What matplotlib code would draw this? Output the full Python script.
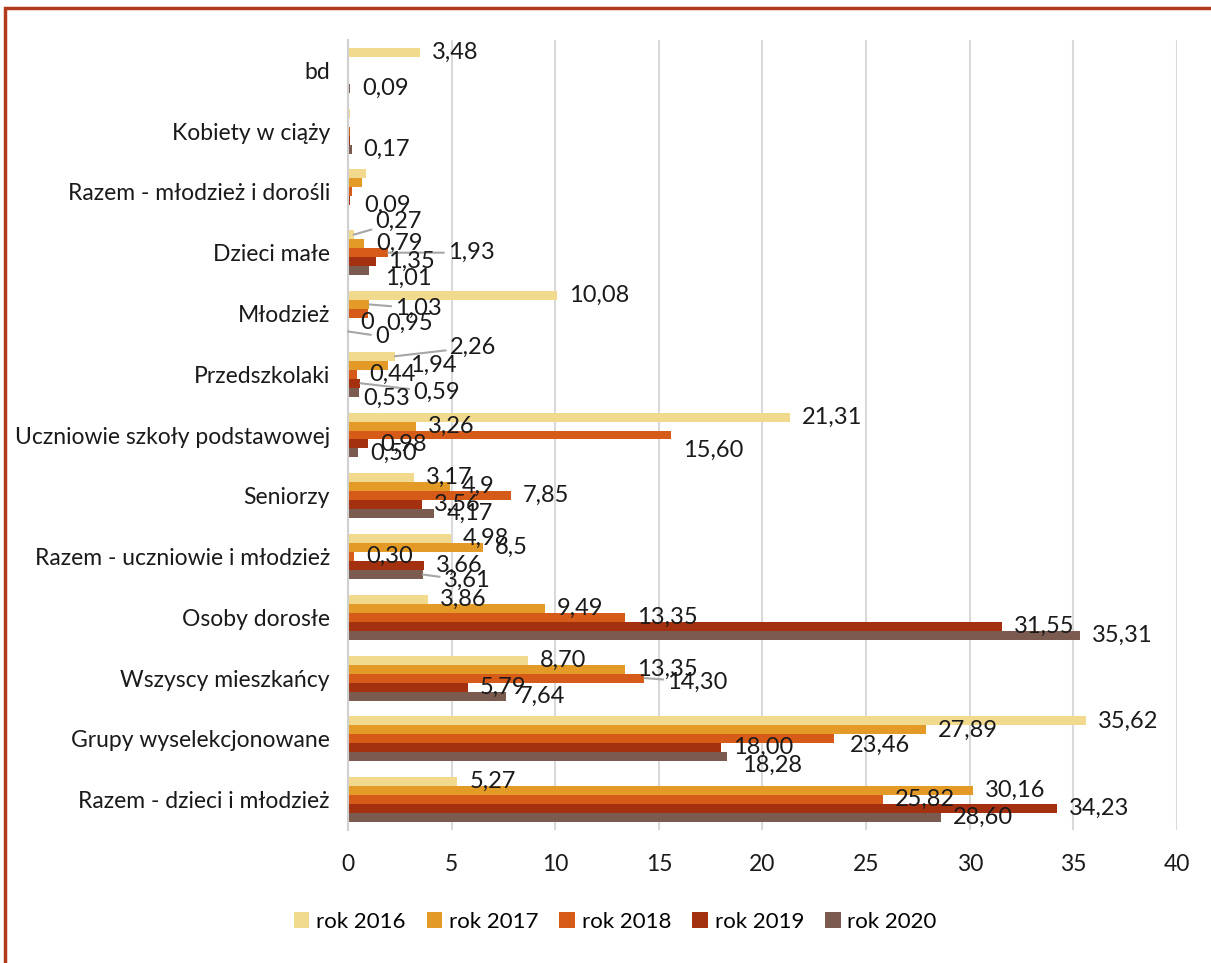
import matplotlib
matplotlib.use("Agg")
import matplotlib.pyplot as plt
from matplotlib.patches import Rectangle, Patch
import numpy as np

plt.rcParams["font.family"] = ["Lato", "DejaVu Sans"]

# categories from top to bottom
categories = [
	"bd",
	"Kobiety w ciąży",
	"Razem - młodzież i dorośli",
	"Dzieci małe",
	"Młodzież",
	"Przedszkolaki",
	"Uczniowie szkoły podstawowej",
	"Seniorzy",
	"Razem - uczniowie i młodzież",
	"Osoby dorosłe",
	"Wszyscy mieszkańcy",
	"Grupy wyselekcjonowane",
	"Razem - dzieci i młodzież",
]

# values as shown in the data labels (None = no bar)
rok_2016 = ["3,48", "0,09", "0,87", "0,27", "10,08", "2,26", "21,31", "3,17", "4,98", "3,86", "8,70", "35,62", "5,27"]
rok_2017 = [None, None, "0,68", "0,79", "1,03", "1,94", "3,26", "4,9", "6,5", "9,49", "13,35", "27,89", "30,16"]
rok_2018 = [None, "0,12", "0,20", "1,93", "0,95", "0,44", "15,60", "7,85", "0,30", "13,35", "14,30", "23,46", "25,82"]
rok_2019 = [None, "0,12", "0,09", "1,35", "0", "0,59", "0,98", "3,56", "3,66", "31,55", "5,79", "18,00", "34,23"]
rok_2020 = ["0,09", "0,17", None, "1,01", "0", "0,53", "0,50", "4,17", "3,61", "35,31", "7,64", "18,28", "28,60"]

series = [rok_2016, rok_2017, rok_2018, rok_2019, rok_2020]
series_names = ["rok 2016", "rok 2017", "rok 2018", "rok 2019", "rok 2020"]
colors = ["#F1DA8E", "#E39A26", "#D65A18", "#A3300F", "#7B5B50"]

# labels that are not shown in the original
hidden_labels = {(1, 0), (1, 2), (1, 3), (2, 0), (2, 1), (2, 2)}

# manual label shifts in pixels (dx right, dy down), leader line flag
label_shift = {
	(2, 3): (2, 4, False),
	(3, 0): (10, -13, True),
	(3, 2): (48, 0, True),
	(3, 4): (4, 8, False),
	(4, 1): (14, 4, True),
	(4, 2): (7, 10, False),
	(4, 4): (15, 5, True),
	(5, 0): (43, -9, True),
	(5, 1): (10, 0, False),
	(5, 3): (41, 9, True),
	(5, 4): (-8, 6, False),
	(6, 2): (0, 15, False),
	(8, 4): (9, 6, True),
	(10, 2): (11, 4, True),
	(11, 2): (4, 6, False),
	(11, 4): (3, 9, False),
}

fig = plt.figure(figsize=(12.11, 9.63), dpi=100)
ax = fig.add_axes([348 / 1211, 133 / 963, 829 / 1211, 790 / 963])

n = len(categories)
base = np.arange(n)[::-1].astype(float)
bar_h = 0.148

for j, vals in enumerate(series):
	for i, s in enumerate(vals):
		if s is None:
			continue
		v = float(s.replace(",", "."))
		y = base[i] + (2 - j) * bar_h
		ax.barh(y, v, height=bar_h, color=colors[j], linewidth=0)
		if (i, j) in hidden_labels:
			continue
		dx, dy, leader = label_shift.get((i, j), (0, 0, False))
		arrow = None
		if leader:
			arrow = dict(arrowstyle="-", color="#A6A6A6", lw=1.5, shrinkA=1, shrinkB=0)
		ax.annotate(
			s, xy=(v, y), xytext=(12 + dx, -dy), textcoords="offset pixels",
			ha="left", va="center", fontsize=17, color="#1a1a1a",
			arrowprops=arrow, annotation_clip=False,
		)

ax.set_xlim(0, 40)
ax.set_ylim(-0.5, n - 0.5)
ax.set_xticks(range(0, 41, 5))
ax.set_yticks(base)
ax.set_yticklabels(categories)
ax.tick_params(axis="y", length=0, pad=13, labelsize=16.5, labelcolor="#1a1a1a")
ax.tick_params(axis="x", length=0, pad=17, labelsize=16.5, labelcolor="#1a1a1a")
ax.grid(axis="x", color="#D9D9D9", lw=1.5)
ax.set_axisbelow(True)
for side in ["top", "right", "bottom"]:
	ax.spines[side].set_visible(False)
ax.spines["left"].set_color("#D0D0D0")
ax.spines["left"].set_linewidth(1.5)

handles = [Patch(facecolor=c, edgecolor="none") for c in colors]
fig.legend(
	handles, series_names, loc="center", bbox_to_anchor=(0.508, 0.0426), ncol=5,
	frameon=False, fontsize=16, handlelength=0.7, handleheight=0.7,
	handletextpad=0.3, columnspacing=0.95,
)

fig.patches.append(Rectangle(
	(5 / 1211, -0.05), 1.2, 1 - 8 / 963 + 0.05, transform=fig.transFigure,
	fill=False, edgecolor="#B03A1A", lw=2.5,
))

fig.savefig("out.png", dpi=100)
